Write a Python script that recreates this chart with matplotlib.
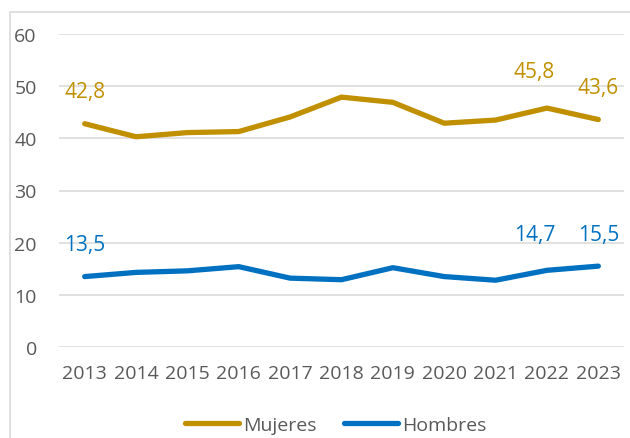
import matplotlib.pyplot as plt
from matplotlib.patches import Rectangle

years = ['2013', '2014', '2015', '2016', '2017', '2018', '2019', '2020', '2021', '2022', '2023']
mujeres = [42.8, 40.3, 41.1, 41.3, 44.1, 47.9, 46.9, 42.9, 43.5, 45.8, 43.6]
hombres = [13.5, 14.3, 14.6, 15.4, 13.2, 12.9, 15.2, 13.5, 12.8, 14.7, 15.5]
# points that carry a value label
labelled = [0, 9, 10]

gold = '#C09000'
blue = '#0070C0'
grey_text = '#595959'

plt.rcParams['font.family'] = ['Open Sans', 'DejaVu Sans']

fig = plt.figure(figsize=(6.3, 4.39), dpi=100)
ax = fig.add_axes([59 / 630, 1 - 348 / 439, 565 / 630, 313 / 439])

# light chart border (top and left visible, rest cut off)
fig.patches.append(Rectangle((10 / 630, -0.1), 1.2, 1 - 13 / 439 + 0.1,
                             transform=fig.transFigure, fill=False,
                             edgecolor='#D9D9D9', linewidth=1.2))

x = list(range(len(years)))
ax.plot(x, mujeres, color=gold, linewidth=3.8, solid_capstyle='round',
        solid_joinstyle='round', label='Mujeres')
ax.plot(x, hombres, color=blue, linewidth=3.8, solid_capstyle='round',
        solid_joinstyle='round', label='Hombres')

for i in labelled:
    dx = -9 if i == 9 else 0
    dy = 26 if i == 9 else 23
    ax.annotate(f'{mujeres[i]:.1f}'.replace('.', ','), (x[i], mujeres[i]),
                xytext=(dx, dy), textcoords='offset points',
                ha='center', va='center', color=gold, fontsize=15)
    ax.annotate(f'{hombres[i]:.1f}'.replace('.', ','), (x[i], hombres[i]),
                xytext=(dx, dy), textcoords='offset points',
                ha='center', va='center', color=blue, fontsize=15)

ax.set_xlim(-0.5, len(years) - 0.5)
ax.set_ylim(0, 60)
ax.set_yticks([0, 10, 20, 30, 40, 50, 60])
ax.set_xticks(x)
ax.set_xticklabels(years)
ax.tick_params(axis='both', length=0, labelsize=14, colors=grey_text)
ax.tick_params(axis='y', pad=16)
ax.tick_params(axis='x', pad=12)
ax.grid(axis='y', color='#D9D9D9', linewidth=1.1)
ax.set_axisbelow(True)
for s in ax.spines.values():
    s.set_visible(False)

fig.legend(loc='center', bbox_to_anchor=(0.533, 1 - 426 / 439), ncol=2,
           frameon=False, fontsize=14, handlelength=2.8, handletextpad=0.2,
           columnspacing=1.4, labelcolor=grey_text)

fig.savefig('out.png', dpi=100)
